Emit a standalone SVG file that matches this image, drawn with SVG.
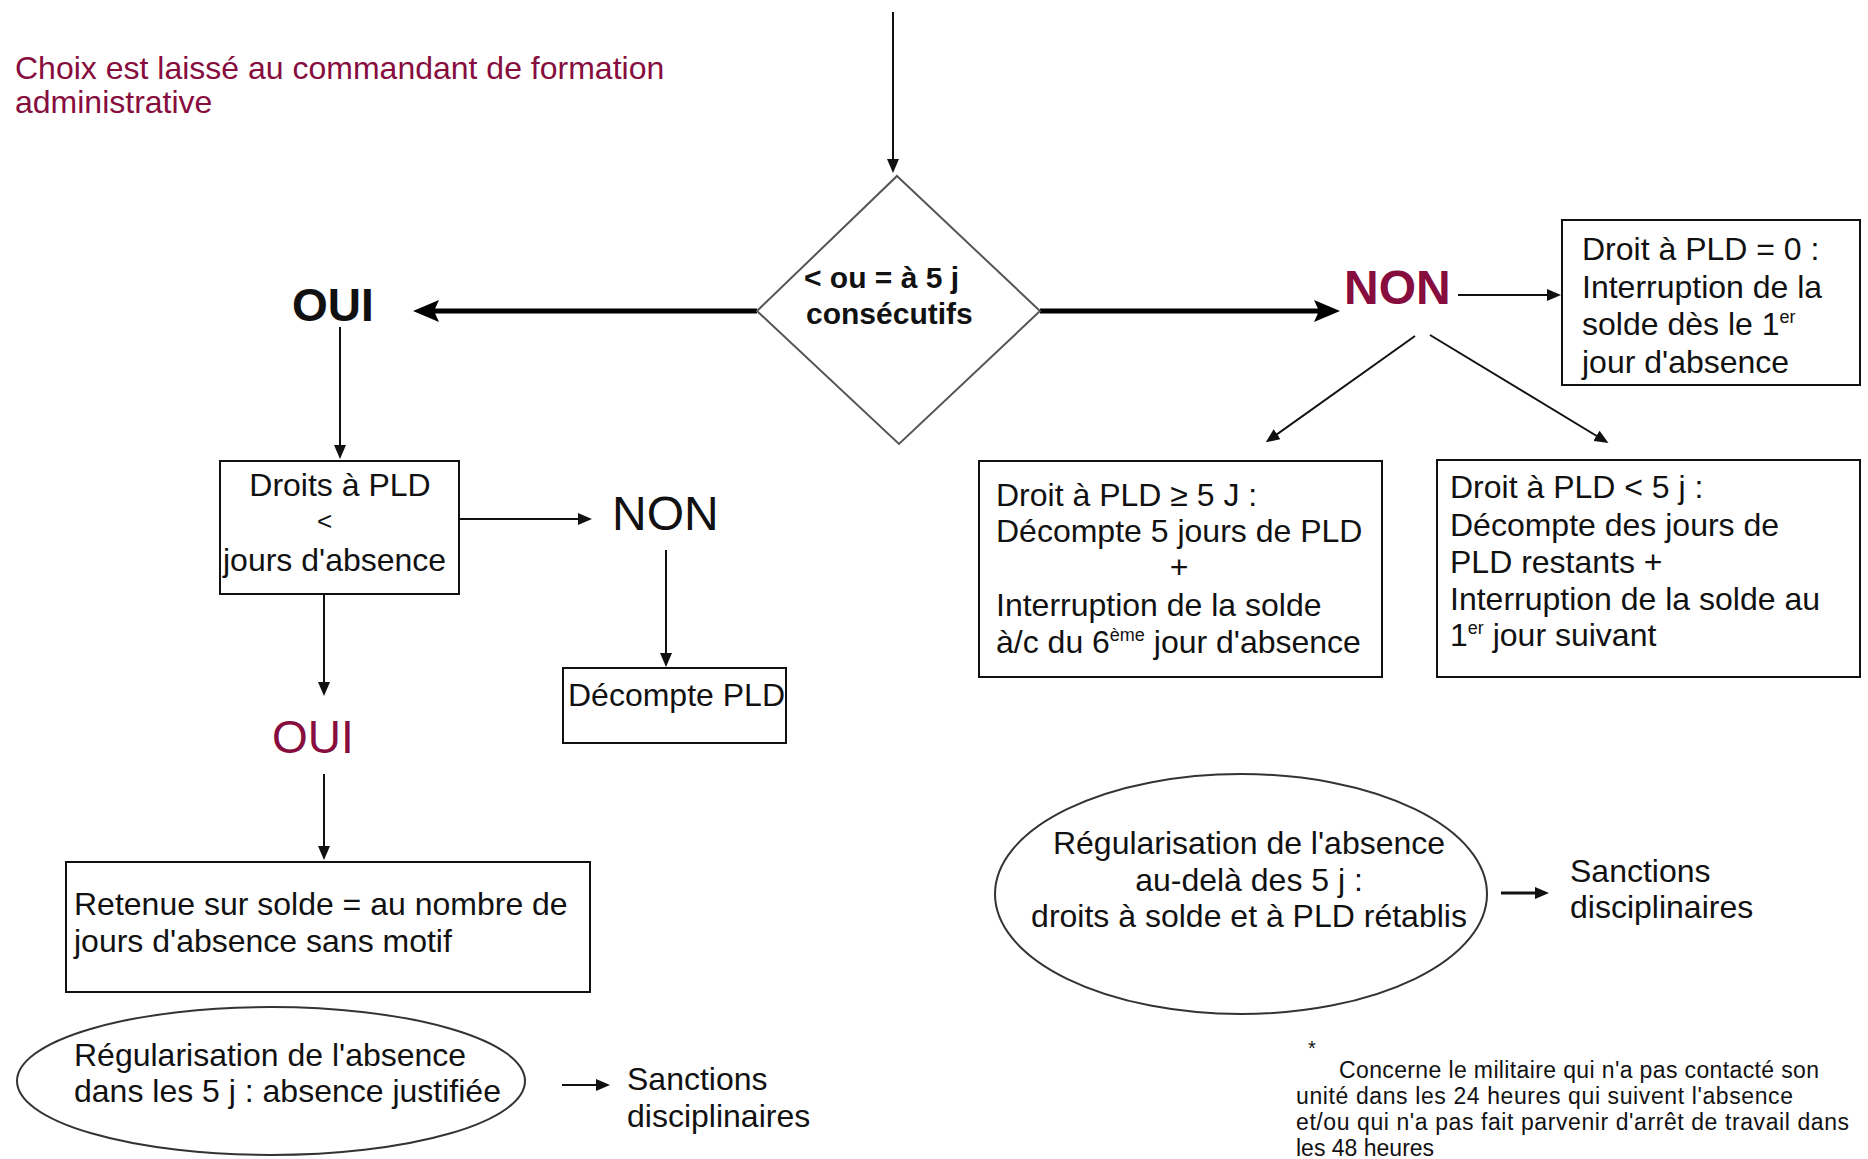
<svg xmlns="http://www.w3.org/2000/svg" width="1868" height="1159" viewBox="0 0 1868 1159">
<style>
.t{font-family:"Liberation Sans",Arial,sans-serif;font-size:32px;fill:#111}
.b{font-weight:bold}
.m{fill:#860d3d}
.box{fill:#fff;stroke:#111;stroke-width:2}
.ln{stroke:#111;stroke-width:2;fill:none;marker-end:url(#ah)}
.th{stroke:#000;stroke-width:5;fill:none;marker-end:url(#aht)}
.fn{font-family:"Liberation Sans",Arial,sans-serif;font-size:23px;fill:#111}
</style>
<defs>
<marker id="ah" markerWidth="14" markerHeight="12" refX="10" refY="6" orient="auto" markerUnits="userSpaceOnUse"><path d="M0,0 L14,6 L0,12 Z" fill="#111"/></marker>
<marker id="aht" markerWidth="26" markerHeight="22" refX="12" refY="11" orient="auto" markerUnits="userSpaceOnUse"><path d="M0,0 L26,11 L0,22 L5,11 Z" fill="#000"/></marker>
</defs>
<rect width="1868" height="1159" fill="#fff"/>

<g id="note-top">
<text class="t m" x="15" y="79">Choix est laissé au commandant de formation</text>
<text class="t m" x="15" y="113">administrative</text>
</g>

<g id="connectors">
<line class="ln" x1="893" y1="12" x2="893" y2="169"/>
<line class="th" x1="757" y1="311" x2="427" y2="311"/>
<line class="th" x1="1040" y1="311" x2="1326" y2="311"/>
<line class="ln" x1="1458" y1="295" x2="1557" y2="295"/>
<line class="ln" x1="1415" y1="336" x2="1269" y2="440"/>
<line class="ln" x1="1430" y1="335" x2="1605" y2="441"/>
<line class="ln" x1="340" y1="327" x2="340" y2="455"/>
<line class="ln" x1="459" y1="519" x2="588" y2="519"/>
<line class="ln" x1="666" y1="550" x2="666" y2="663"/>
<line class="ln" x1="324" y1="575" x2="324" y2="692"/>
<line class="ln" x1="324" y1="774" x2="324" y2="856"/>
<line class="ln" x1="562" y1="1085" x2="606" y2="1085"/>
<line class="ln" x1="1501" y1="893" x2="1545" y2="893" style="stroke-width:3"/>
</g>

<g id="decision">
<polygon points="897,176 1040,311 899,444 757,311" fill="#fff" stroke="#555" stroke-width="2"/>
<text class="t b" x="804" y="288" style="font-size:30px">&lt; ou = à 5 j</text>
<text class="t b" x="806" y="324" style="font-size:30px">consécutifs</text>
</g>

<g id="oui-1"><text class="t b" x="292" y="321" style="font-size:46px">OUI</text></g>
<g id="non-1"><text class="t b m" x="1344" y="304" style="font-size:48px">NON</text></g>

<g id="box-pld0">
<rect class="box" x="1562" y="220" width="298" height="165"/>
<text class="t" x="1582" y="260">Droit à PLD = 0 :</text>
<text class="t" x="1582" y="298">Interruption de la</text>
<text class="t" x="1582" y="335">solde dès le 1<tspan style="font-size:18px" dy="-12">er</tspan></text>
<text class="t" x="1582" y="373">jour d'absence</text>
</g>

<g id="box-pld-ge5">
<rect class="box" x="979" y="461" width="403" height="216"/>
<text class="t" x="996" y="506">Droit à PLD ≥ 5 J :</text>
<text class="t" x="996" y="542">Décompte 5 jours de PLD</text>
<text class="t" x="1179" y="578" text-anchor="middle">+</text>
<text class="t" x="996" y="616">Interruption de la solde</text>
<text class="t" x="996" y="653">à/c du 6<tspan style="font-size:18px" dy="-12">ème</tspan><tspan dy="12"> jour d'absence</tspan></text>
</g>

<g id="box-pld-lt5">
<rect class="box" x="1437" y="460" width="423" height="217"/>
<text class="t" x="1450" y="498">Droit à PLD &lt; 5 j :</text>
<text class="t" x="1450" y="536">Décompte des jours de</text>
<text class="t" x="1450" y="573">PLD restants +</text>
<text class="t" x="1450" y="610">Interruption de la solde au</text>
<text class="t" x="1450" y="646">1<tspan style="font-size:18px" dy="-12">er</tspan><tspan dy="12"> jour suivant</tspan></text>
</g>

<g id="box-droits">
<rect class="box" x="220" y="461" width="239" height="133"/>
<text class="t" x="340" y="496" text-anchor="middle">Droits à PLD</text>
<text class="t" x="317" y="530" style="font-size:26px">&lt;</text>
<text class="t" x="223" y="571">jours d'absence</text>
</g>

<g id="non-2"><text class="t" x="612" y="530" style="font-size:48px">NON</text></g>

<g id="box-decompte">
<rect class="box" x="563" y="668" width="223" height="75"/>
<text class="t" x="568" y="706">Décompte PLD</text>
</g>

<g id="oui-2"><text class="t m" x="272" y="753" style="font-size:46px">OUI</text></g>

<g id="box-retenue">
<rect class="box" x="66" y="862" width="524" height="130"/>
<text class="t" x="74" y="915">Retenue sur solde = au nombre de</text>
<text class="t" x="74" y="952">jours d'absence sans motif</text>
</g>

<g id="ellipse-left">
<ellipse cx="271" cy="1081" rx="254" ry="74" fill="#fff" stroke="#333" stroke-width="2"/>
<text class="t" x="74" y="1066">Régularisation de l'absence</text>
<text class="t" x="74" y="1102">dans les 5 j : absence justifiée</text>
</g>

<g id="sanctions-left">
<text class="t" x="627" y="1090">Sanctions</text>
<text class="t" x="627" y="1127">disciplinaires</text>
</g>

<g id="ellipse-right">
<ellipse cx="1241" cy="894" rx="246" ry="120" fill="#fff" stroke="#333" stroke-width="2"/>
<text class="t" x="1249" y="854" text-anchor="middle">Régularisation de l'absence</text>
<text class="t" x="1249" y="891" text-anchor="middle">au-delà des 5 j :</text>
<text class="t" x="1249" y="927" text-anchor="middle">droits à solde et à PLD rétablis</text>
</g>

<g id="sanctions-right">
<text class="t" x="1570" y="882">Sanctions</text>
<text class="t" x="1570" y="918">disciplinaires</text>
</g>

<g id="footnote">
<text class="fn" x="1308" y="1055" style="font-size:20px">*</text>
<text class="fn" x="1339" y="1078" textLength="480">Concerne le militaire qui n'a pas contacté son</text>
<text class="fn" x="1296" y="1104" textLength="497">unité dans les 24 heures qui suivent l'absence</text>
<text class="fn" x="1296" y="1130" textLength="553">et/ou qui n'a pas fait parvenir d'arrêt de travail dans</text>
<text class="fn" x="1296" y="1156">les 48 heures</text>
</g>
</svg>
